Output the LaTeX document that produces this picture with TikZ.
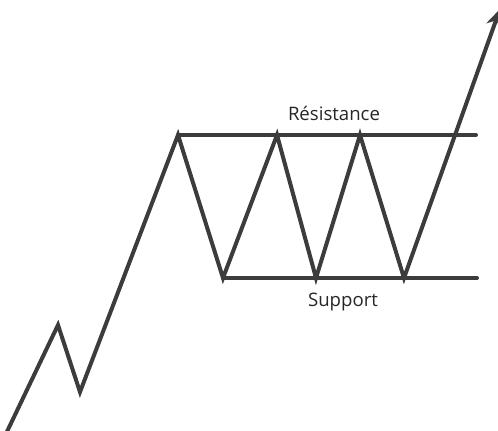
\documentclass[tikz,border=0pt]{standalone}
\usepackage{fontspec}
\setmainfont{Open Sans}
\usetikzlibrary{arrows.meta}
\definecolor{trait}{HTML}{3C3C3C}
\begin{document}
\begin{tikzpicture}[x=0.5pt,y=0.5pt,>={Stealth[length=9pt,width=8pt]}, font=\fontsize{9.3}{11}\selectfont, line join=miter, line cap=round]
	\tikzset{cours/.style={draw=trait,line width=2pt}, etiquette/.style={text=black!85,inner sep=0pt}}
	\def\yres{295} \def\ysup{152}
	\useasboundingbox (0,0) rectangle (498,430);
	\clip (0,0) rectangle (498,430);
	% points of the price curve
	\coordinate (depart) at (3,-10);
	\coordinate (h0) at (58,105);
	\coordinate (b0) at (80,38);
	\coordinate (h1) at (178,\yres);
	\coordinate (b1) at (223,\ysup);
	\coordinate (h2) at (277,\yres);
	\coordinate (b2) at (316,\ysup);
	\coordinate (h3) at (360,\yres);
	\coordinate (b3) at (404,\ysup);
	\coordinate (pointe) at (500,421);
	\coordinate (finres) at (476,\yres);
	\coordinate (finsup) at (477,\ysup);
	% resistance and support
	\draw[cours] (h1)--(finres);
	\draw[cours] (b1)--(finsup);
	\node[etiquette] (res) at (334,317) {Résistance};
	\node[etiquette] (sup) at (343,128) {Support};
	% price
	\draw[cours,->] (depart)--(h0)--(b0)--(h1)--(b1)--(h2)--(b2)--(h3)--(b3)--(pointe);
\end{tikzpicture}
\end{document}
